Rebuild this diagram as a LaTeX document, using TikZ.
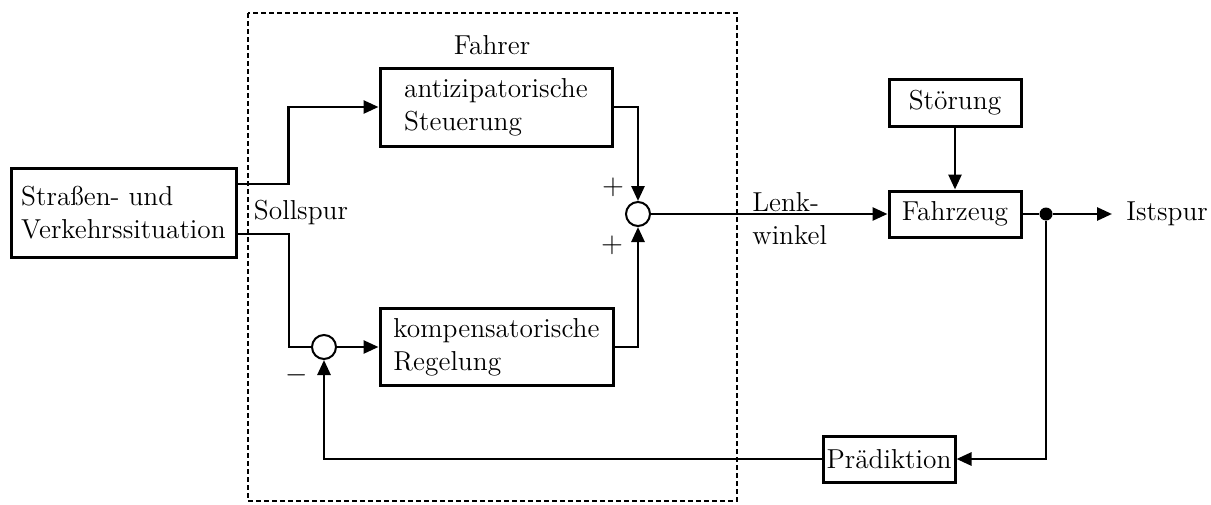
\documentclass[tikz,border=0pt]{standalone}
\usepackage{fontspec}
\usetikzlibrary{arrows.meta,calc}

\begin{document}
\begin{tikzpicture}[x=0.5pt,y=-0.5pt,
  font=\fontsize{13.7pt}{16.5pt}\selectfont,
  blk/.style={draw, line width=1.5pt, align=left, inner xsep=2pt, inner ysep=0pt},
  conn/.style={line width=1.35pt},
  arr/.style={conn, -{Triangle[length=7.5pt,width=6.5pt]}},
  sumc/.style={circle, draw, line width=1pt, minimum size=12pt, inner sep=0pt},
  joint/.style={circle, fill, inner sep=0pt, minimum size=6.5pt},
  grp/.style={line width=1.3pt, dash pattern=on 2.5pt off 1.5pt},
  lbl/.style={inner sep=0pt}]

\useasboundingbox (0,0) rectangle (1211,504);

% driver group frame
\draw[grp] (248,13) rectangle (737,501);
\node[lbl] (fahrer) at (492,45) {Fahrer};

% blocks
\node[blk, minimum width=112.5pt, minimum height=44.5pt] (sv) at (123.5,212.5)
  {Straßen- und\\Verkehrssituation};
\node[blk, minimum width=116pt, minimum height=39pt] (ant) at (496,107)
  {antizipatorische\\Steuerung};
\node[blk, minimum width=116.5pt, minimum height=38.5pt] (komp) at (496.5,347)
  {kompensatorische\\Regelung};
\node[blk, minimum width=66pt, minimum height=23.5pt] (st) at (955,102.5) {Störung};
\node[blk, minimum width=66pt, minimum height=23pt] (fz) at (955,214) {Fahrzeug};
\node[blk, inner xsep=1pt, minimum width=66pt, minimum height=23pt] (pr) at (889,459) {Prädiktion};

% summing points and branch point
\node[sumc] (s1) at (638,214) {};
\node[sumc] (s2) at (324,347) {};
\node[joint] (dot) at (1046,214) {};

% labels
\node[lbl] (soll) at (301,213) {Sollspur};
\node[lbl, align=left, anchor=west] (lw) at (752,219) {Lenk-\\winkel};
\node[lbl] (p1) at (613,187) {$+$};
\node[lbl] (p2) at (612,245) {$+$};
\node[lbl] (m1) at (297,375) {$-$};
\node[lbl, anchor=west, inner xsep=7pt] (ist) at (1112,214) {Istspur};

% signal flow
\draw[arr] ([yshift=14.25pt]sv.east) -| ([xshift=-45pt]ant.west) -- (ant.west);
\draw[conn] ([yshift=-10.75pt]sv.east) -| ([xshift=-11pt]s2.west) -- (s2.west);
\draw[arr] (s2.east) -- (s2.east -| komp.west);
\draw[arr] (ant.east) -| (s1.north);
\draw[arr] (komp.east) -| (s1.south);
\draw[arr] (s1.east) -- (fz.west);
\draw[arr] (st.south) -- (fz.north);
\draw[conn] (fz.east) -- (dot);
\draw[arr] (dot) -- (ist.west);
\draw[arr] (dot) |- (pr.east);
\draw[arr] (pr.west) -| (s2.south);
\end{tikzpicture}
\end{document}
